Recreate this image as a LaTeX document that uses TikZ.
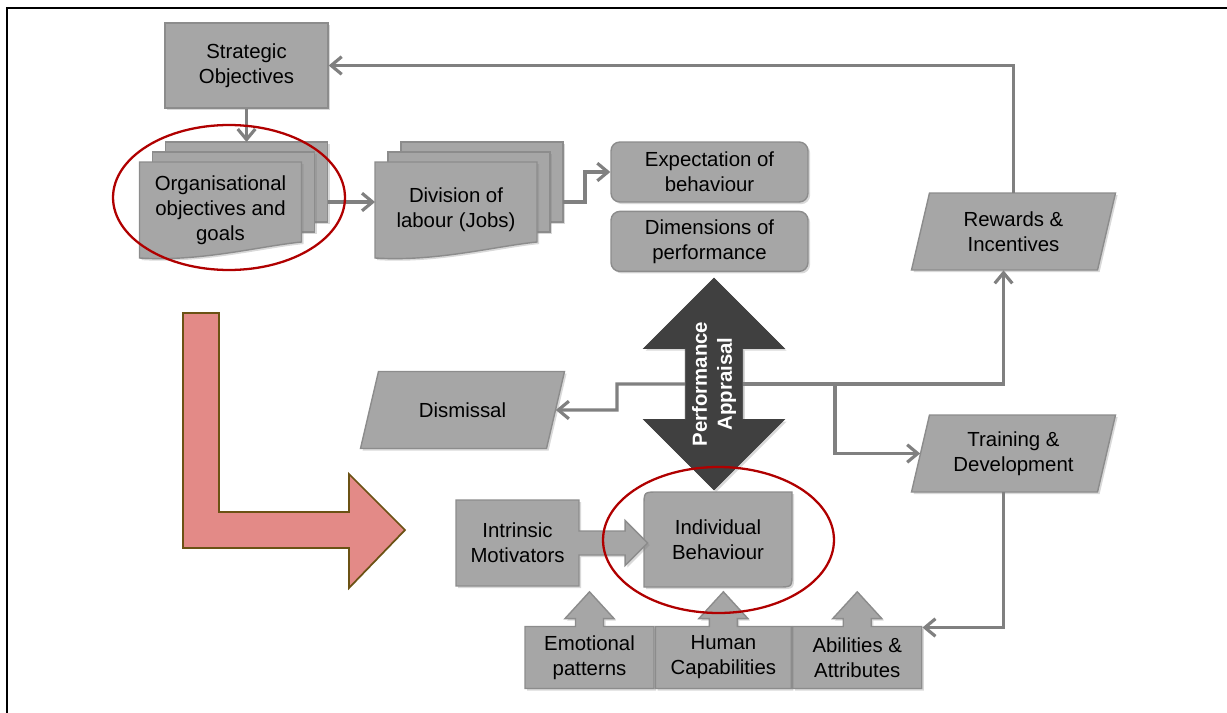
\documentclass[tikz,border=0pt]{standalone}
\usepackage{fontspec}
\setmainfont{Liberation Sans}
\usetikzlibrary{positioning,arrows.meta,shapes.arrows,shadows}

\definecolor{boxgray}{HTML}{A6A6A6}
\definecolor{boxedge}{HTML}{8C8C8C}
\definecolor{linkgray}{HTML}{808080}
\definecolor{darkarrow}{HTML}{404040}
\definecolor{ringred}{HTML}{B00000}
\definecolor{pinkfill}{HTML}{E38A87}
\definecolor{pinkedge}{HTML}{6B5214}

\newcommand\boxfont{\fontsize{11.6}{14.2}\selectfont}

\tikzset{
  box/.style={draw=boxedge, fill=boxgray, line width=0.8pt, font=\boxfont,
    align=center, inner sep=2pt,
    drop shadow={opacity=0.3, shadow xshift=1.2pt, shadow yshift=-1.2pt}},
  roundbox/.style={box, rounded corners=5pt},
  sheet/.style={box},
  doctext/.style={font=\boxfont, align=center, inner sep=0pt},
  paratext/.style={doctext, minimum width=3.72cm, minimum height=1.54cm},
  callup/.style={box, arrow box, arrow box arrows={north:0.68cm from border},
    arrow box shaft width=0.56cm, arrow box head extend=0.21cm,
    arrow box tip angle=85, minimum height=1.24cm},
  callright/.style={box, arrow box, arrow box arrows={east:1.36cm from border},
    arrow box shaft width=0.48cm, arrow box head extend=0.21cm,
    arrow box tip angle=90},
  appraisal/.style={double arrow, rotate=90, draw=darkarrow, fill=darkarrow,
    minimum height=4.24cm, minimum width=2.82cm,
    double arrow head extend=0.7cm, double arrow tip angle=90,
    inner sep=1pt, text=white, font=\boxfont\bfseries, align=center,
    drop shadow={opacity=0.3, shadow xshift=1.2pt, shadow yshift=-1.2pt}},
  link/.style={draw=linkgray, line width=1.8pt, -{Straight Barb[length=6pt,width=10pt]}},
  ring/.style={draw=ringred, line width=1.3pt},
  pinkarrow/.style={draw=pinkedge, fill=pinkfill, line width=1pt},
}

% stack of three sheets: name, centre, text
\newcommand\docstack[3]{%
  \begin{scope}[shift={#2}]
    \foreach \off in {26,13}
      \draw[sheet] (-81+\off,-48-0.77*\off) rectangle ++(162,80);
    \draw[sheet] (-81,-48) -- (81,-48) -- (81,32)
      .. controls (40,36) and (-20,52) .. (-81,48) -- cycle;
    \node[doctext] (#1) at (0,0) {#3};
    \coordinate (#1-top) at (26,-68);
    \coordinate (#1-in) at (-81,-8);
    \coordinate (#1-out) at (107,-8);
  \end{scope}}

% slanted box: name, centre, text
\newcommand\parabox[3]{%
  \begin{scope}[shift={#2}]
    \draw[sheet] (-84,-38.5) -- (102,-38.5) -- (84,38.5) -- (-102,38.5) -- cycle;
    \node[paratext] (#1) at (0,0) {#3};
  \end{scope}}

\begin{document}
\begin{tikzpicture}[x=0.02cm, y=-0.02cm]
\useasboundingbox (0,0) rectangle (1227,713);
\draw[line width=1.6pt] (1227,8) -- (7,8) -- (7,713);

\node[box, minimum width=3.26cm, minimum height=1.7cm] (strat) at (246.5,65.5) {Strategic\\Objectives};
\docstack{org}{(220.5,210)}{Organisational\\objectives and\\goals}
\docstack{div}{(456,210)}{Division of\\labour (Jobs)}
\node[roundbox, minimum width=3.94cm, minimum height=1.2cm] (exp) at (709.5,172) {Expectation of\\behaviour};
\node[roundbox, minimum width=3.94cm, minimum height=1.2cm, below=0.16cm of exp] (dim) {Dimensions of\\performance};

\parabox{rew}{(1013.5,231.5)}{Rewards \&\\Incentives}
\parabox{train}{(1013.5,453.5)}{Training \&\\Development}
\parabox{dis}{(462.5,410)}{Dismissal}

\node[appraisal] (pa) at (714,384) {Performance\\Appraisal};

\draw[box] (644,587) -- (644,506) .. controls (644,492) .. (658,492) -- (792,492)
  -- (792,573) .. controls (792,587) .. (778,587) -- cycle;
\node[doctext] (ind) at (718,539.5) {Individual\\Behaviour};
\node[callright, minimum width=2.46cm, minimum height=1.72cm] (intr) at (517.5,543) {Intrinsic\\Motivators};
\node[callup, minimum width=2.58cm] (emo) at (589.5,657.5) {Emotional\\patterns};
\node[callup, minimum width=2.72cm, right=0pt of emo] (hum) {Human\\Capabilities};
\node[callup, minimum width=2.58cm, right=0pt of hum] (abil) {Abilities \&\\Attributes};

\draw[link] (strat) -- (org-top);
\draw[link] (org-out) -- (div-in);
\draw[link] (div-out) -- ++(22,0) |- (exp);
\draw[link] (rew.north) |- (strat);
\path (pa.center) ++(-97,0) coordinate (lbend) ++(218,0) coordinate (fork);
\draw[link] (pa) -- (lbend) |- (dis);
\draw[link] (pa) -| ([xshift=-0.2cm]rew.south);
\draw[link] (fork) |- (train);
\draw[link] ([xshift=-0.2cm]train.south) |- ([yshift=0.6cm]abil.east);

\draw[pinkarrow] (183,313) -- (219,313) -- (219,512) -- (349,512) -- (349,474)
  -- (405,530) -- (349,588) -- (349,548) -- (183,548) -- cycle;

\draw[ring] (229,197.5) ellipse [x radius=2.32cm, y radius=1.45cm];
\draw[ring] (718.5,540) ellipse [x radius=2.31cm, y radius=1.46cm];
\end{tikzpicture}
\end{document}
